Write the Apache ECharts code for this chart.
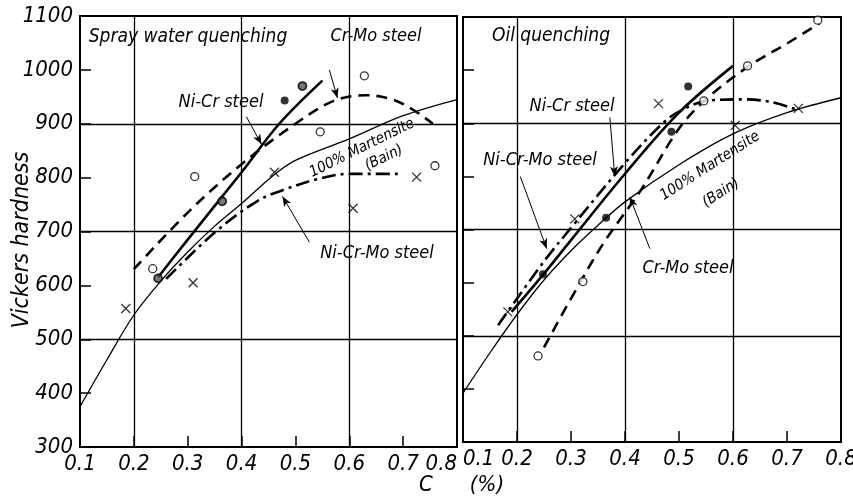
<!DOCTYPE html>
<html>
<head>
<meta charset="utf-8">
<script src="https://cdn.jsdelivr.net/npm/echarts@6/dist/echarts.min.js"></script>
<style>
html,body{margin:0;padding:0;background:#fff;}
#chart{width:853px;height:502px;}
</style>
</head>
<body>
<div id="chart"></div>
<script>
// ---- tick labels ----
const xTickLabels = ['0.1','0.2','0.3','0.4','0.5','0.6','0.7','0.8'];
const yTickLabels = ['300','400','500','600','700','800','900','1000','1100'];
const gridLinesX = [0.2, 0.4, 0.6];
const gridLinesY = [500, 700, 900];

// ---- Spray water quenching (left) ----
const leftBain = [[0.1,375],[0.15,462],[0.2,545],[0.25,608],[0.3,662],[0.35,710],[0.4,752],[0.46,805],[0.5,832],[0.6,872],[0.7,915],[0.8,945]];
const leftNiCr = [[0.245,615],[0.3,685],[0.4,810],[0.47,900],[0.55,980]];
const leftCrMo = [[0.2,630],[0.3,735],[0.4,825],[0.5,900],[0.57,942],[0.63,953],[0.68,945],[0.72,925],[0.755,900]];
const leftNiCrMo = [[0.26,612],[0.35,698],[0.43,757],[0.48,778],[0.54,797],[0.6,807],[0.69,807]];
const leftNiCrFilled = [[0.48,943]];
const leftNiCrDotted = [[0.513,970],[0.364,756],[0.245,613]];
const leftCrMoPts = [[0.235,631],[0.313,802],[0.546,885],[0.628,989],[0.759,822]];
const leftNiCrMoPts = [[0.185,557],[0.31,605],[0.461,810],[0.607,743],[0.725,801]];

// ---- Oil quenching (right) ----
const rightBain = [[0.1,392],[0.15,468],[0.2,540],[0.25,605],[0.3,660],[0.35,708],[0.4,752],[0.5,822],[0.6,880],[0.7,920],[0.8,948]];
const rightNiCr = [[0.19,545],[0.25,617],[0.3,680],[0.4,805],[0.5,920],[0.6,1008]];
const rightCrMo = [[0.25,478],[0.3,570],[0.36,674],[0.43,775],[0.5,890],[0.55,945],[0.63,1008],[0.7,1050],[0.76,1088]];
const rightNiCrMo = [[0.165,520],[0.25,640],[0.3,703],[0.4,825],[0.47,900],[0.5,922],[0.55,942],[0.62,945],[0.67,940],[0.72,925]];
const rightNiCrPts = [[0.248,616],[0.365,722],[0.486,884],[0.517,969]];
const rightCrMoPts = [[0.239,462],[0.322,602],[0.546,942],[0.627,1008],[0.757,1094]];
const rightNiCrMoPts = [[0.183,545],[0.307,720],[0.462,937],[0.604,896],[0.721,928]];

// ---- annotation arrows (data coords: from, to) ----
const leftArrows = [[[0.563,1000],[0.578,948]], [[0.409,913],[0.437,862]], [[0.526,680],[0.476,765]]];
const rightArrows = [[[0.372,911],[0.381,800]], [[0.206,800],[0.255,664]], [[0.446,664],[0.409,761]]];

const FONT = "'DejaVu Sans Condensed','DejaVu Sans',sans-serif";
const NUMFONT = "'Liberation Sans Narrow','DejaVu Sans Condensed','DejaVu Sans',sans-serif";
const chart = echarts.init(document.getElementById('chart'));

function xAxisCfg(idx, alignMin, alignMax) {
  return {
    type:'value', gridIndex: idx, min:0.1, max:0.8, interval:0.1,
    axisLine:{show:true, lineStyle:{color:'#000', width:2}},
    axisTick:{show:true, inside:true, length:11, lineStyle:{color:'#000', width:1.5}},
    splitLine:{show:false},
    axisLabel:{
      show:true, margin:6, color:'#000', fontSize:22, fontStyle:'italic', fontFamily:NUMFONT,
      alignMinLabel: alignMin, alignMaxLabel: alignMax,
      formatter: v => xTickLabels[Math.round((v-0.1)*10)]
    }
  };
}
function yAxisCfg(idx, showLabel) {
  return {
    type:'value', gridIndex: idx, min:300, max:1100, interval:100,
    axisLine:{show:true, lineStyle:{color:'#000', width:2}},
    axisTick:{show:true, inside:true, length:11, lineStyle:{color:'#000', width:1.5}},
    splitLine:{show:false},
    axisLabel:{
      show:showLabel, margin:7, color:'#000', fontSize:22, fontStyle:'italic', fontFamily:NUMFONT,
      formatter: v => yTickLabels[Math.round((v-300)/100)]
    }
  };
}

function curve(idx, data, width, type) {
  return {
    type:'line', xAxisIndex:idx, yAxisIndex:idx, data:data, showSymbol:false, smooth:0.35,
    lineStyle:{color:'#000', width:width, type:type}, silent:true, z:3
  };
}
function pts(idx, data, kind) {
  const s = {type:'scatter', xAxisIndex:idx, yAxisIndex:idx, data:data, silent:true, z:4};
  if (kind === 'filled') { s.symbol='circle'; s.symbolSize=8; s.itemStyle={color:'#000'}; }
  else if (kind === 'open') { s.symbol='circle'; s.symbolSize=8; s.itemStyle={color:'#fff', borderColor:'#000', borderWidth:1.3}; }
  else if (kind === 'dotted') { s.symbol='circle'; s.symbolSize=8; s.itemStyle={color:'#555', borderColor:'#000', borderWidth:1.8}; }
  else if (kind === 'cross') { s.symbol='path://M0,0L10,10M10,0L0,10'; s.symbolSize=9; s.itemStyle={color:'transparent', borderColor:'#000', borderWidth:1.3}; }
  return s;
}
function gridLines(idx, arrows) {
  const data = gridLinesX.map(v => ({xAxis:v})).concat(gridLinesY.map(v => ({yAxis:v})));
  return [
    { type:'line', xAxisIndex:idx, yAxisIndex:idx, data:[], silent:true, z:2,
      markLine:{ silent:true, symbol:'none', animation:false, label:{show:false},
        lineStyle:{color:'#000', width:1.3, type:'solid'}, data:data } },
    { type:'line', xAxisIndex:idx, yAxisIndex:idx, data:[], silent:true, z:5,
      markLine:{ silent:true, symbol:['none','arrow'], symbolSize:[6,10], animation:false, label:{show:false},
        lineStyle:{color:'#000', width:1, type:'solid'},
        data: arrows.map(a => [{coord:a[0]}, {coord:a[1]}]) } }
  ];
}

const txt = (x, y, s, size, extra) => Object.assign({
  type:'text', x:x, y:y, silent:true, z:10,
  style:{text:s, fill:'#000', font:'italic ' + size + 'px ' + FONT, textAlign:'center', textVerticalAlign:'middle'}
}, extra || {});

const option = {
  animation:false,
  backgroundColor:'#fff',
  grid:[
    {left:80, top:16, width:377, height:431, show:true, borderColor:'#000', borderWidth:2, containLabel:false, outerBoundsMode:'none'},
    {left:463, top:17, width:378, height:425, show:true, borderColor:'#000', borderWidth:2, containLabel:false, outerBoundsMode:'none'}
  ],
  xAxis:[ xAxisCfg(0, 'center', 'right'), xAxisCfg(1, 'left', 'center') ],
  yAxis:[ yAxisCfg(0, true), yAxisCfg(1, false) ],
  series:[].concat(
    gridLines(0, leftArrows),
    gridLines(1, rightArrows),
    [
      curve(0, leftBain, 1.3, 'solid'),
      curve(0, leftNiCr, 2.6, 'solid'),
      curve(0, leftCrMo, 2.6, [11,7]),
      curve(0, leftNiCrMo, 2.6, [14,5,3,5]),
      pts(0, leftNiCrFilled, 'filled'),
      pts(0, leftNiCrDotted, 'dotted'),
      pts(0, leftCrMoPts, 'open'),
      pts(0, leftNiCrMoPts, 'cross'),
      curve(1, rightBain, 1.3, 'solid'),
      curve(1, rightNiCr, 2.6, 'solid'),
      curve(1, rightCrMo, 2.6, [11,7]),
      curve(1, rightNiCrMo, 2.6, [14,5,3,5]),
      pts(1, rightNiCrPts, 'filled'),
      pts(1, rightCrMoPts, 'open'),
      pts(1, rightNiCrMoPts, 'cross')
    ]
  ),
  graphic:[
    txt(188, 37, 'Spray water quenching', 19),
    txt(376, 36, 'Cr-Mo steel', 18),
    txt(221, 102, 'Ni-Cr steel', 18),
    txt(362, 148, '100% Martensite', 15, {rotation: 0.46}),
    txt(384, 158, '(Bain)', 15, {rotation: 0.46}),
    txt(377, 253, 'Ni-Cr-Mo steel', 18),
    txt(551, 36, 'Oil quenching', 19),
    txt(572, 106, 'Ni-Cr steel', 18),
    txt(540, 160, 'Ni-Cr-Mo steel', 18),
    txt(688, 268, 'Cr-Mo steel', 18),
    txt(710, 166, '100% Martensite', 15, {rotation: 0.57}),
    txt(721, 193, '(Bain)', 15, {rotation: 0.57}),
    txt(22, 240, 'Vickers hardness', 23, {rotation: Math.PI/2}),
    txt(426, 485, 'C', 22),
    txt(487, 485, '(%)', 22)
  ]
};
chart.setOption(option);
</script>
</body>
</html>
